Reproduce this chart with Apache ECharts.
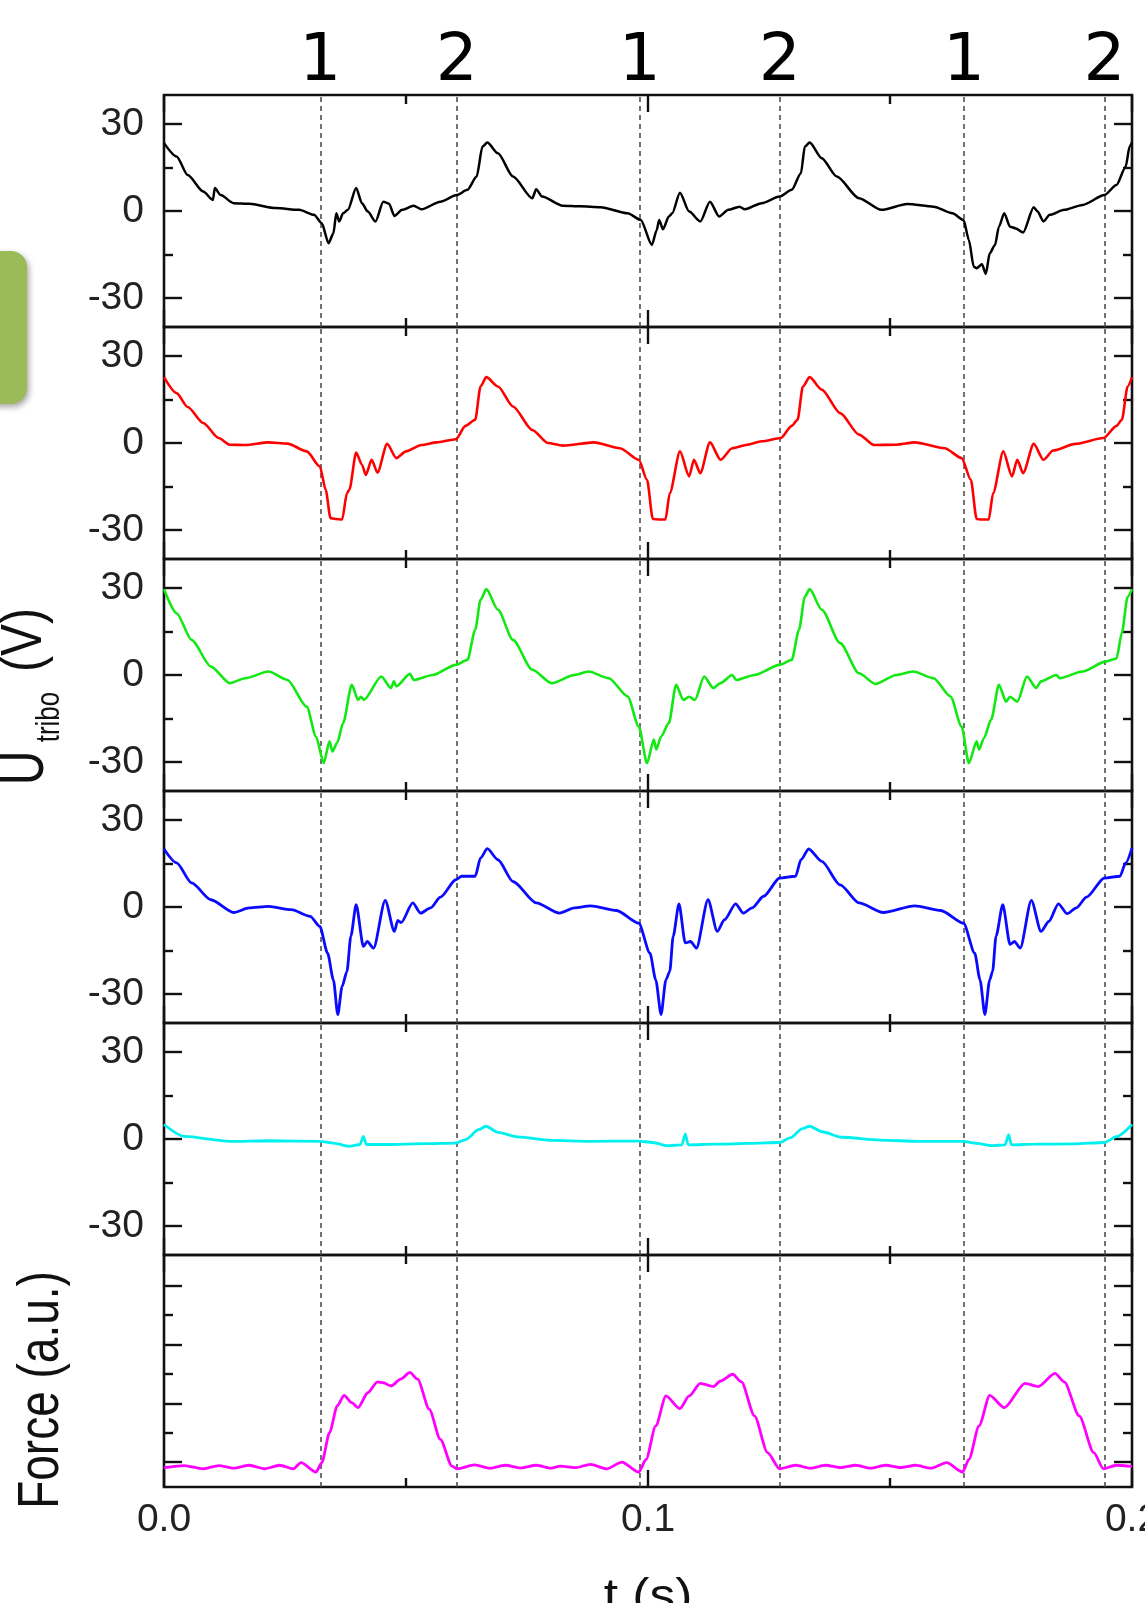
<!DOCTYPE html>
<html>
<head>
<meta charset="utf-8">
<script src="https://cdn.jsdelivr.net/npm/echarts@6/dist/echarts.min.js"></script>
<style>
html,body{margin:0;padding:0;background:#fff;}
#c{width:1145px;height:1603px;}
</style>
</head>
<body>
<div id="c"></div>
<script>
// ---- data (t in s, value) ----
const eventTimes = [0.0323, 0.0605, 0.0983, 0.1272, 0.1653, 0.1943];
const eventLabels = ['1', '2', '1', '2', '1', '2'];
const xTickLabels = ['0.0', '0.1', '0.2'];
const uTicks = [-30, 0, 30];
const uMinorTicks = [-15, 15];
const fTicks = [0, 2, 4, 6];
const fMinorTicks = [1, 3, 5];

const black = [[0,23.4],[0.0026,18.8],[0.0049,12.4],[0.0081,6.7],[0.0101,3.8],[0.0105,7.9],[0.0117,5.5],[0.0144,2.7],[0.0176,2.5],[0.0231,1.0],[0.0279,0.4],[0.0310,-1.3],[0.0326,-4.2],[0.0340,-11.1],[0.0350,-7.7],[0.0356,-0.8],[0.0362,-3.6],[0.0370,-0.8],[0.0380,0.4],[0.0397,7.9],[0.0409,2.7],[0.0421,-0.2],[0.0437,-3.6],[0.0453,3.2],[0.0465,2.5],[0.0476,-1.7],[0.0492,0.4],[0.0516,1.8],[0.0532,0.6],[0.0571,3.2],[0.0605,5.5],[0.0627,7.3],[0.0646,11.9],[0.0658,22.2],[0.0668,23.6],[0.0690,19.9],[0.0721,11.9],[0.0761,4.4],[0.0769,7.5],[0.0781,5.0],[0.0824,1.8],[0.0860,1.6],[0.0902,1.3],[0.0958,-0.8],[0.0985,-3.1],[0.1008,-11.7],[0.1018,-6.6],[0.1023,-3.1],[0.1031,-6.3],[0.1043,-1.9],[0.1050,-0.8],[0.1066,6.3],[0.1085,-0.2],[0.1108,-3.6],[0.1128,3.2],[0.1147,-1.9],[0.1166,0.4],[0.1189,1.5],[0.1200,0.6],[0.1235,2.7],[0.1272,5.0],[0.1297,7.3],[0.1316,13.0],[0.1324,22.2],[0.1334,23.6],[0.1359,18.2],[0.1390,11.9],[0.1436,4.4],[0.1482,0.4],[0.1536,2.4],[0.1590,1.5],[0.1629,-0.8],[0.1652,-3.1],[0.1663,-10.0],[0.1673,-19.2],[0.1679,-19.7],[0.1690,-18.4],[0.1698,-21.7],[0.1706,-14.6],[0.1717,-11.7],[0.1725,-5.4],[0.1736,-0.8],[0.1748,-5.4],[0.1760,-6.0],[0.1775,-7.4],[0.1797,1.3],[0.1805,-0.2],[0.1817,-3.6],[0.1830,-1.3],[0.1860,0.4],[0.1898,2.1],[0.1943,5.5],[0.1968,9.0],[0.1987,15.3],[0.1995,22.2],[0.2000,23.6]];

const red = [[0,22.7],[0.0026,17.2],[0.0049,12.4],[0.0081,6.9],[0.0113,1.7],[0.0136,-0.6],[0.0168,-0.7],[0.0216,0.2],[0.0255,-0.2],[0.0295,-2.9],[0.0322,-8.1],[0.0334,-16.1],[0.0344,-25.9],[0.0354,-26.2],[0.0368,-26.4],[0.0378,-17.3],[0.0383,-16.1],[0.0397,-3.3],[0.0409,-7.5],[0.0417,-11.0],[0.0429,-5.8],[0.0441,-10.2],[0.0461,-0.3],[0.0480,-5.2],[0.0500,-2.9],[0.0532,-0.7],[0.0563,0.2],[0.0603,1.3],[0.0623,5.9],[0.0643,8.0],[0.0654,19.5],[0.0666,22.7],[0.0690,19.5],[0.0721,12.6],[0.0761,4.5],[0.0793,0.0],[0.0824,-0.9],[0.0888,0.2],[0.0942,-1.8],[0.0981,-5.8],[0.0998,-12.7],[0.1010,-26.2],[0.1024,-26.4],[0.1036,-26.4],[0.1045,-17.3],[0.1066,-2.9],[0.1085,-11.5],[0.1095,-5.8],[0.1108,-10.4],[0.1128,0.2],[0.1150,-5.8],[0.1174,-1.8],[0.1205,-0.6],[0.1235,0.6],[0.1274,1.7],[0.1297,5.9],[0.1309,8.0],[0.1320,19.5],[0.1334,22.7],[0.1359,18.4],[0.1397,10.3],[0.1436,2.9],[0.1467,-0.7],[0.1513,-0.6],[0.1551,0.2],[0.1613,-1.8],[0.1648,-5.2],[0.1667,-12.7],[0.1679,-26.2],[0.1689,-26.4],[0.1704,-26.4],[0.1713,-17.3],[0.1734,-2.9],[0.1752,-11.5],[0.1763,-5.8],[0.1775,-10.4],[0.1797,-0.3],[0.1817,-5.8],[0.1837,-2.6],[0.1883,-0.3],[0.1941,1.7],[0.1968,5.9],[0.1979,8.0],[0.1991,19.5],[0.2000,22.7]];

const green = [[0,29.6],[0.0026,21.3],[0.0057,12.1],[0.0097,2.9],[0.0136,-2.8],[0.0168,-1.1],[0.0216,1.2],[0.0255,-1.7],[0.0295,-10.9],[0.0314,-21.2],[0.0330,-30.4],[0.0342,-22.9],[0.0348,-26.4],[0.0358,-23.3],[0.0370,-16.6],[0.0388,-3.4],[0.0401,-8.6],[0.0407,-7.5],[0.0413,-8.6],[0.0449,-0.5],[0.0469,-4.5],[0.0475,-2.2],[0.0480,-3.9],[0.0508,0.4],[0.0516,-1.7],[0.0555,0.0],[0.0603,3.5],[0.0627,5.2],[0.0643,15.6],[0.0654,25.9],[0.0666,29.6],[0.0690,22.5],[0.0721,12.1],[0.0761,1.8],[0.0801,-2.8],[0.0848,0.0],[0.0877,1.2],[0.0919,-1.1],[0.0958,-7.4],[0.0981,-17.8],[0.0998,-30.4],[0.1012,-22.3],[0.1017,-25.7],[0.1027,-21.2],[0.1043,-16.6],[0.1058,-3.4],[0.1073,-8.6],[0.1085,-7.5],[0.1097,-8.6],[0.1116,-0.5],[0.1135,-4.5],[0.1150,-2.8],[0.1174,0.0],[0.1182,-1.7],[0.1220,0.0],[0.1272,3.5],[0.1297,5.2],[0.1312,15.6],[0.1324,27.0],[0.1334,29.6],[0.1359,22.5],[0.1397,11.0],[0.1436,0.6],[0.1470,-3.1],[0.1513,0.0],[0.1548,1.2],[0.1590,-1.1],[0.1625,-7.4],[0.1648,-17.8],[0.1663,-30.4],[0.1679,-22.9],[0.1684,-25.7],[0.1694,-21.8],[0.1709,-15.4],[0.1725,-3.4],[0.1740,-9.2],[0.1748,-7.5],[0.1763,-9.2],[0.1783,-0.5],[0.1802,-4.5],[0.1812,-2.2],[0.1844,0.0],[0.1850,-1.1],[0.1898,1.2],[0.1945,4.6],[0.1968,5.7],[0.1979,14.5],[0.1991,27.0],[0.2000,29.6]];

const blue = [[0,20.0],[0.0026,15.2],[0.0057,8.3],[0.0097,2.5],[0.0144,-1.9],[0.0176,-0.3],[0.0216,0.2],[0.0263,-0.9],[0.0302,-3.2],[0.0322,-6.7],[0.0338,-15.9],[0.0350,-25.1],[0.0359,-37.1],[0.0368,-27.4],[0.0378,-22.2],[0.0386,-10.1],[0.0397,0.8],[0.0412,-13.6],[0.0420,-11.9],[0.0433,-14.2],[0.0457,2.3],[0.0476,-8.4],[0.0483,-4.6],[0.0490,-5.4],[0.0514,1.4],[0.0530,-2.1],[0.0551,-0.3],[0.0571,3.4],[0.0603,9.4],[0.0615,10.6],[0.0643,10.6],[0.0654,16.9],[0.0668,20.1],[0.0690,16.3],[0.0721,8.8],[0.0769,1.4],[0.0817,-2.1],[0.0848,-0.3],[0.0881,0.4],[0.0935,-1.2],[0.0981,-5.6],[0.1004,-15.9],[0.1016,-25.1],[0.1027,-37.1],[0.1037,-25.1],[0.1045,-22.2],[0.1052,-10.1],[0.1064,1.1],[0.1077,-12.4],[0.1088,-11.9],[0.1100,-14.2],[0.1124,2.5],[0.1143,-8.4],[0.1158,-4.4],[0.1181,1.1],[0.1197,-2.1],[0.1215,-0.3],[0.1239,3.7],[0.1272,10.0],[0.1305,10.6],[0.1316,16.3],[0.1332,20.0],[0.1359,15.7],[0.1397,7.6],[0.1436,1.4],[0.1486,-1.9],[0.1551,0.4],[0.1605,-1.2],[0.1652,-5.6],[0.1675,-15.9],[0.1686,-25.1],[0.1696,-37.1],[0.1706,-25.1],[0.1712,-22.2],[0.1719,-10.1],[0.1733,0.8],[0.1748,-12.9],[0.1757,-11.9],[0.1769,-14.2],[0.1792,2.3],[0.1812,-8.4],[0.1828,-5.0],[0.1848,1.1],[0.1866,-2.3],[0.1885,-0.3],[0.1906,3.4],[0.1943,10.0],[0.1975,10.6],[0.1987,15.2],[0.2000,20.3]];

const cyan = [[0,5.0],[0.0042,0.9],[0.0136,-0.8],[0.0220,-0.6],[0.0322,-0.8],[0.0350,-1.4],[0.0382,-2.5],[0.0405,-1.9],[0.0412,0.9],[0.0418,-1.9],[0.0460,-1.9],[0.0540,-1.6],[0.0603,-1.4],[0.0623,-0.2],[0.0650,3.2],[0.0665,4.4],[0.0690,2.3],[0.0731,0.7],[0.0800,-0.5],[0.0880,-0.8],[0.0980,-0.7],[0.1010,-1.2],[0.1040,-2.3],[0.1070,-2.0],[0.1077,1.8],[0.1083,-2.0],[0.1140,-1.8],[0.1210,-1.5],[0.1272,-1.2],[0.1295,0.5],[0.1318,3.5],[0.1334,4.4],[0.1360,2.5],[0.1400,0.6],[0.1480,-0.4],[0.1560,-0.8],[0.1650,-0.8],[0.1680,-1.5],[0.1712,-2.3],[0.1738,-2.0],[0.1745,1.5],[0.1751,-2.0],[0.1800,-1.8],[0.1880,-1.7],[0.1943,-1.2],[0.1968,0.8],[0.2000,5.0]];

const force = [[0,-0.19],[0.0042,-0.12],[0.0081,-0.23],[0.0113,-0.12],[0.0144,-0.21],[0.0176,-0.11],[0.0208,-0.23],[0.0239,-0.11],[0.0267,-0.23],[0.0283,-0.02],[0.0314,-0.34],[0.0326,-0.02],[0.0342,1.0],[0.0358,1.91],[0.0372,2.27],[0.0388,2.02],[0.0401,1.85],[0.0421,2.36],[0.0441,2.73],[0.0453,2.7],[0.0469,2.59],[0.0489,2.82],[0.0508,3.05],[0.0524,2.82],[0.0548,1.8],[0.0571,0.77],[0.0595,-0.14],[0.0606,-0.23],[0.0642,-0.1],[0.0674,-0.21],[0.0705,-0.11],[0.0737,-0.2],[0.0769,-0.11],[0.0800,-0.21],[0.0819,-0.14],[0.0850,-0.19],[0.0881,-0.08],[0.0915,-0.23],[0.0946,0.0],[0.0981,-0.34],[0.0996,0.09],[0.1016,1.23],[0.1037,2.25],[0.1066,1.82],[0.1085,2.25],[0.1108,2.68],[0.1135,2.57],[0.1150,2.76],[0.1175,2.99],[0.1193,2.73],[0.1220,1.57],[0.1247,0.32],[0.1272,-0.23],[0.1305,-0.11],[0.1336,-0.21],[0.1367,-0.11],[0.1398,-0.19],[0.1429,-0.11],[0.1460,-0.21],[0.1491,-0.11],[0.1522,-0.19],[0.1553,-0.11],[0.1584,-0.21],[0.1617,-0.02],[0.1650,-0.34],[0.1663,0.09],[0.1684,1.23],[0.1706,2.27],[0.1736,1.85],[0.1779,2.68],[0.1806,2.57],[0.1841,3.02],[0.1860,2.73],[0.1891,1.57],[0.1921,0.32],[0.1941,-0.23],[0.1968,-0.11],[0.2000,-0.15]];

// ---- layout / styling ----
const panels = [
  {data: black, color: '#000000', width: 2.5, range: [-40, 40], major: uTicks, minor: uMinorTicks, labels: true},
  {data: red,   color: '#ff0000', width: 2.6, range: [-40, 40], major: uTicks, minor: uMinorTicks, labels: true},
  {data: green, color: '#12e812', width: 2.6, range: [-40, 40], major: uTicks, minor: uMinorTicks, labels: true},
  {data: blue,  color: '#0a0aff', width: 2.8, range: [-40, 40], major: uTicks, minor: uMinorTicks, labels: true},
  {data: cyan,  color: '#00f0f0', width: 2.8, range: [-40, 40], major: uTicks, minor: uMinorTicks, labels: true},
  {data: force, color: '#ff00ff', width: 2.8, range: [-0.85, 7.05], major: fTicks, minor: fMinorTicks, labels: false}
];
const TOP0 = 95, PH = 232, LEFT = 164, PW = 968;
const tickColor = '#111';
const tickW = 2.4;
const labelFont = {fontSize: 39, fontFamily: '"Liberation Sans", Arial, sans-serif', color: '#222'};

const grids = [], xAxes = [], yAxes = [], series = [];
panels.forEach((p, i) => {
  grids.push({left: LEFT, top: TOP0 + i * PH, width: PW, height: PH, show: true,
    borderColor: '#111', borderWidth: 2.6, backgroundColor: 'transparent',
    containLabel: false, outerBoundsMode: 'none'});
  ['bottom', 'top'].forEach(pos => {
    const showLabel = (i === panels.length - 1 && pos === 'bottom');
    xAxes.push({type: 'value', gridIndex: i, position: pos, min: 0, max: 0.2, interval: 0.1,
      axisLine: {show: false, onZero: false}, splitLine: {show: false}, minorSplitLine: {show: false},
      axisTick: {show: true, inside: true, length: 17, lineStyle: {color: tickColor, width: tickW}},
      minorTick: {show: true, splitNumber: 2, length: 9, lineStyle: {color: tickColor, width: tickW}},
      axisLabel: Object.assign({show: showLabel, margin: 14, showMinLabel: true, showMaxLabel: true,
        formatter: v => xTickLabels[Math.round(v * 10)] || ''}, labelFont)});
  });
  ['left', 'right'].forEach(pos => {
    yAxes.push({type: 'value', gridIndex: i, position: pos, min: p.range[0], max: p.range[1],
      axisLine: {show: false, onZero: false}, splitLine: {show: false},
      axisTick: {show: true, inside: true, length: 18, customValues: p.major, lineStyle: {color: tickColor, width: tickW}},
      axisLabel: Object.assign({show: p.labels && pos === 'left', margin: 20, customValues: p.major,
        formatter: v => String(v)}, labelFont)});
    yAxes.push({type: 'value', gridIndex: i, position: pos, min: p.range[0], max: p.range[1],
      axisLine: {show: false, onZero: false}, splitLine: {show: false},
      axisTick: {show: true, inside: true, length: 9, customValues: p.minor, lineStyle: {color: tickColor, width: tickW}},
      axisLabel: {show: false}});
  });
  series.push({type: 'line', xAxisIndex: 2 * i, yAxisIndex: 4 * i, data: p.data,
    showSymbol: false, symbol: 'none', smooth: 0.25, smoothMonotone: 'x', animation: false, z: 5,
    lineStyle: {color: p.color, width: p.width},
    markLine: {silent: true, symbol: ['none', 'none'], animation: false, precision: 5,
      lineStyle: {type: [5, 4], color: '#444', width: 1.5},
      label: {show: i === 0, position: 'end', distance: -1, formatter: '{b}',
        fontSize: 66, fontFamily: '"DejaVu Sans", Verdana, sans-serif', color: '#000'},
      emphasis: {disabled: true},
      data: eventTimes.map((t, k) => ({xAxis: t, name: eventLabels[k]}))}});
});

const titleFont = '"Liberation Sans", Arial, sans-serif';
function rotText(text, x, y, size, stretch) {
  return {type: 'text', x: x, y: y, rotation: Math.PI / 2, scaleY: stretch, silent: true,
    style: {text: text, fontSize: size, fontFamily: titleFont, fill: '#111',
      align: 'center', verticalAlign: 'middle', textAlign: 'center', textVerticalAlign: 'middle'}};
}

const chart = echarts.init(document.getElementById('c'), null, {renderer: 'canvas'});
chart.setOption({
  backgroundColor: '#ffffff',
  animation: false,
  grid: grids,
  xAxis: xAxes,
  yAxis: yAxes,
  series: series,
  graphic: [
    {type: 'rect', shape: {x: -20, y: 251, width: 47, height: 153, r: 16}, silent: true,
      style: {fill: '#9bbb59', shadowBlur: 6, shadowColor: 'rgba(0,0,0,0.35)', shadowOffsetX: 2, shadowOffsetY: 3}},
    rotText('U', 26, 768, 48, 1.3),
    rotText('tribo', 50, 717, 26, 1.25),
    rotText('(V)', 25, 640, 48, 1.2),
    rotText('Force (a.u.)', 42, 1390, 46, 1.25),
    {type: 'text', x: 648, y: 1598, scaleX: 1.12, silent: true,
      style: {text: 't (s)', fontSize: 46, fontFamily: titleFont, fill: '#111',
        align: 'center', verticalAlign: 'middle', textAlign: 'center', textVerticalAlign: 'middle'}}
  ]
});
</script>
</body>
</html>
